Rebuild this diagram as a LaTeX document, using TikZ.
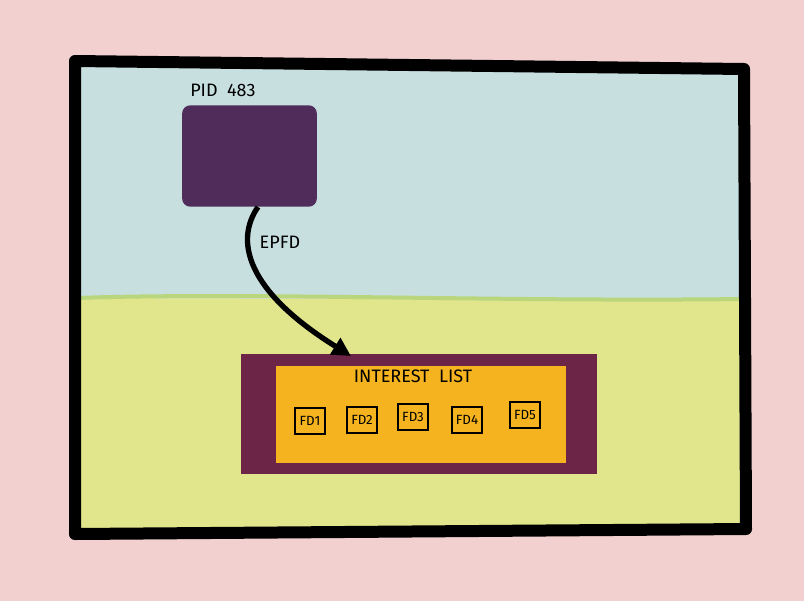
\documentclass[tikz,border=0pt]{standalone}
\usepackage{fontspec}
\setmainfont{Fira Sans}
\usetikzlibrary{arrows.meta}
\definecolor{bgpink}{HTML}{F2D0CF}
\definecolor{skyblue}{HTML}{C8DFE0}
\definecolor{grass}{HTML}{E1E68C}
\definecolor{grassedge}{HTML}{B9D67C}
\definecolor{plum}{HTML}{4F2C5A}
\definecolor{maroon}{HTML}{6C2447}
\definecolor{amber}{HTML}{F5B41F}
\tikzset{
  lbl/.style={font=\fontsize{13.5}{15}\selectfont, text=black, inner sep=0pt},
  fdbox/.style={draw=black, line width=1.3pt, font=\fontsize{10}{12}\selectfont, minimum width=23pt, minimum height=19pt, inner sep=1pt},
}
\begin{document}
\begin{tikzpicture}[x=0.75pt,y=-0.75pt]
\useasboundingbox (0,0) rectangle (804,601);
\fill[bgpink] (0,0) rectangle (804,601);
% sky and grass
\fill[skyblue] (74,62) -- (744,68) -- (744,300) -- (74,300) -- cycle;
\fill[grass] (74,298) -- (744,300) -- (746,532) -- (74,533) -- cycle;
\draw[grassedge, line width=3pt] (76,298) .. controls (250,292) and (500,302) .. (742,299);
% frame
\draw[black, line width=9pt, line join=round] (75,61) -- (744,69) -- (746,529) -- (75,534) -- cycle;
% PID box
\node[lbl, anchor=west] (pidlbl) at (190,90) {PID\ \ 483};
\node[fill=plum, rounded corners=6pt, minimum width=101pt, minimum height=76pt, inner sep=0pt] (pid) at (249.5,156) {};
% interest list
\node[fill=maroon, minimum width=267pt, minimum height=90pt, inner sep=0pt] (outer) at (419,414) {};
\node[fill=amber, minimum width=218pt, minimum height=73pt, inner sep=0pt] (inner) at (421,414.5) {};
\node[lbl] (il) at (413,376) {INTEREST\ \ LIST};
\node[fdbox] (fd1) at (310,421) {FD1};
\node[fdbox] (fd2) at (362,420) {FD2};
\node[fdbox] (fd3) at (413,417) {FD3};
\node[fdbox] (fd4) at (467,420) {FD4};
\node[fdbox] (fd5) at (525,415) {FD5};
% arrow
\coordinate (tip) at (351,356);
\draw[black, line width=4pt, -{Triangle[length=14pt,width=14pt]}] (pid.south -| 258,0) .. controls (235,240) and (245,290) .. (tip);
\node[lbl] (epfd) at (280,242) {EPFD};
\end{tikzpicture}
\end{document}
